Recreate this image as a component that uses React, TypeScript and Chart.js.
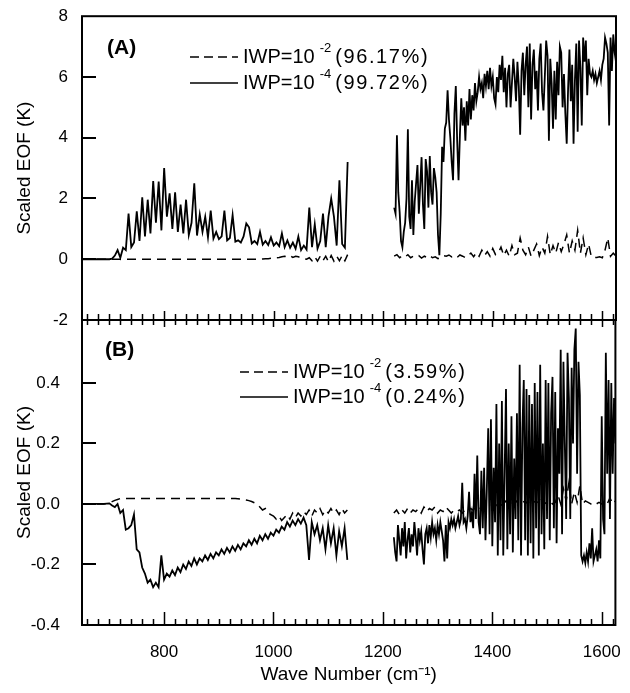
import React, { useEffect, useRef } from "react";
import { Chart, registerables } from "chart.js";
Chart.register(...registerables);

const FONT = "'Liberation Sans', Arial, Helvetica, sans-serif";
const W = 630;
const H = 693;

// ---------- data ----------
const wave1 = [
  650, 660, 670, 680, 690, 700, 705,
  710, 715, 720, 725, 730, 735, 740, 745, 750, 755,
  760, 765, 770, 775, 780, 785, 790, 795, 800, 805,
  810, 815, 820, 825, 830, 835, 840, 845, 850, 855,
  860, 865, 870, 875, 880, 885, 890, 895, 900, 905,
  910, 915, 920, 925, 930, 935, 940, 945, 950, 955,
  960, 965, 970, 975, 980, 985, 990, 995, 1000, 1005,
  1010, 1015, 1020, 1025, 1030, 1035, 1040, 1045, 1050, 1055,
  1060, 1065, 1070, 1075, 1080, 1085, 1090, 1095, 1100, 1105,
  1110, 1115, 1120, 1125, 1130, 1135,
];
const wave2 = [
  1220, 1225, 1230, 1235, 1240, 1245, 1250, 1255, 1260, 1265,
  1270, 1275, 1280, 1285, 1290, 1295, 1300, 1305, 1310, 1315,
  1320, 1325, 1330, 1335, 1340, 1345, 1350, 1355, 1360, 1365,
  1370, 1375, 1380, 1385, 1390, 1395, 1400, 1405, 1410, 1415,
  1420, 1425, 1430, 1435, 1440, 1445, 1450, 1455, 1460, 1465,
  1470, 1475, 1480, 1485, 1490, 1495, 1500, 1505, 1510, 1515,
  1520, 1525, 1530, 1535, 1540, 1545, 1550, 1555, 1560, 1565,
  1570, 1575, 1580, 1585, 1590, 1595, 1600, 1605, 1610, 1615,
  1620, 1625,
];
// finer grid used by the solid (IWP=1e-4) curves above 1200 cm-1
const wave2Fine = [
  1220, 1222.5, 1225, 1227.5, 1230, 1232.5, 1235, 1237.5, 1240, 1242.5,
  1245, 1247.5, 1250, 1252.5, 1255, 1257.5, 1260, 1262.5, 1265, 1267.5,
  1270, 1272.5, 1275, 1277.5, 1280, 1282.5, 1285, 1287.5, 1290, 1292.5,
  1295, 1297.5, 1300, 1302.5, 1305, 1307.5, 1310, 1312.5, 1315, 1317.5,
  1320, 1322.5, 1325, 1327.5, 1330, 1332.5, 1335, 1337.5, 1340, 1342.5,
  1345, 1347.5, 1350, 1352.5, 1355, 1357.5, 1360, 1362.5, 1365, 1367.5,
  1370, 1372.5, 1375, 1377.5, 1380, 1382.5, 1385, 1387.5, 1390, 1392.5,
  1395, 1397.5, 1400, 1402.5, 1405, 1407.5, 1410, 1412.5, 1415, 1417.5,
  1420, 1422.5, 1425, 1427.5, 1430, 1432.5, 1435, 1437.5, 1440, 1442.5,
  1445, 1447.5, 1450, 1452.5, 1455, 1457.5, 1460, 1462.5, 1465, 1467.5,
  1470, 1472.5, 1475, 1477.5, 1480, 1482.5, 1485, 1487.5, 1490, 1492.5,
  1495, 1497.5, 1500, 1502.5, 1505, 1507.5, 1510, 1512.5, 1515, 1517.5,
  1520, 1522.5, 1525, 1527.5, 1530, 1532.5, 1535, 1537.5, 1540, 1542.5,
  1545, 1547.5, 1550, 1552.5, 1555, 1557.5, 1560, 1562.5, 1565, 1567.5,
  1570, 1572.5, 1575, 1577.5, 1580, 1582.5, 1585, 1587.5, 1590, 1592.5,
  1595, 1597.5, 1600, 1602.5, 1605, 1607.5, 1610, 1612.5, 1615, 1617.5,
  1620, 1622.5, 1625,
];

// Panel A, IWP=1e-4 (solid)
const aSolid1 = [
  0, 0, 0, 0, 0, 0, 0.02,
  0.12, 0.3, 0.05, 0.38, 0.3, 1.5, 0.4, 0.55, 1.58, 0.6,
  2.04, 0.75, 1.96, 0.85, 2.57, 1.2, 2.56, 0.95, 3.0, 1.4,
  2.17, 1.0, 2.2, 0.9, 1.8, 0.85, 1.96, 0.8, 1.2, 2.5,
  0.78, 1.48, 0.9, 1.4, 0.72, 1.6, 0.68, 0.9, 0.66, 0.75,
  1.6, 0.62, 0.7, 1.45, 0.58, 0.62, 0.55, 0.75, 1.18, 1.05,
  0.52, 0.6, 0.5, 0.9, 0.48, 0.6, 0.47, 0.72, 0.45, 0.55,
  0.43, 0.85, 0.4, 0.62, 0.38, 0.55, 0.35, 0.75, 0.3, 0.45,
  0.32, 1.7, 0.4, 1.15, 0.35, 0.6, 1.5, 0.4, 1.4, 2.0,
  1.4, 0.45, 2.6, 0.5, 0.38, 3.2,
];
const aSolid2 = [
  1.7, 1.5, 4.08, 2.2, 1.55, 0.6, 0.4, 0.9, 1.2, 2.0,
  4.28, 1.4, 1.0, 2.6, 0.8, 1.9, 2.5, 3.1, 1.5, 2.4,
  3.36, 1.8, 1.0, 3.3, 2.9, 1.7, 3.4, 2.2, 1.8, 3.0,
  2.7, 2.2, 0.8, 0.13, 1.5, 3.7, 3.2, 4.3, 4.5, 5.56,
  4.6, 4.0, 3.2, 2.6, 4.8, 5.7, 3.9, 2.6, 4.1, 5.3,
  4.4, 5.0, 3.9, 5.2, 4.4, 5.6, 4.6, 5.4, 4.9, 5.8,
  5.2, 5.5, 6.0, 5.6, 5.8, 5.3, 6.1, 5.7, 6.2, 5.6,
  6.3, 5.7, 6.0, 5.3, 5.1, 6.0, 5.5, 6.4, 5.9, 6.7,
  5.5, 6.3, 5.0, 6.1, 6.4, 5.0, 5.8, 6.6, 6.0, 5.2,
  6.5, 5.7, 4.1, 6.2, 6.8, 5.4, 6.4, 7.0, 5.0, 7.1,
  4.6, 6.4, 6.9, 5.6, 6.2, 4.9, 6.6, 7.1, 5.5, 4.9,
  6.0, 7.2, 6.7, 3.9, 6.6, 5.8, 4.3, 6.2, 4.6, 6.5,
  5.4, 7.0, 6.8, 5.0, 6.1, 4.8, 3.8, 5.6, 6.9, 5.2,
  6.4, 3.8, 5.9, 7.1, 4.2, 7.2, 6.3, 4.4, 7.3, 6.5,
  7.2, 5.4, 6.6, 6.1, 6.0, 6.2, 5.9, 6.1, 5.8, 6.0,
  6.2, 5.9, 6.4, 6.6, 7.3, 7.1, 6.8, 4.4, 7.3, 6.2,
  7.4, 6.8, 6.5,
];
// Panel A, IWP=1e-2 (dashed)
const aDashed1 = [
  0, 0, 0, 0, 0, 0, 0,
  0, 0, 0, 0, 0, 0, 0, 0, 0, 0,
  0, 0, 0, 0, 0, 0, 0, 0, 0, 0,
  0, 0, 0, 0, 0, 0, 0, 0, 0, 0,
  0, 0, 0, 0, 0, 0, 0, 0, 0, 0,
  0, 0, 0, 0, 0, 0, 0, 0, 0, 0,
  0, 0, 0, 0, 0.01, 0.02, 0.02, 0.03, 0.03, 0.05,
  0.06, 0.08, 0.1, 0.08, 0.12, 0.06, 0.1, 0.08, 0.05, 0.02,
  0.0, 0.05, -0.05, 0.08, -0.06, 0.1, -0.05, 0.1, -0.08, 0.12,
  -0.06, 0.1, -0.05, 0.12, -0.05, 0.15,
];
const aDashed2 = [
  0.1, 0.15, 0.05, 0.12, 0.08, 0.15, 0.05, 0.1, 0.08, 0.12,
  0.04, 0.1, 0.06, 0.12, 0.05, 0.08, 0.02, 0.05, 0.12, 0.1,
  0.14, 0.08, 0.12, 0.06, 0.14, 0.1, 0.05, 0.12, 0.2, 0.08,
  0.22, 0.1, 0.3, 0.12, 0.25, 0.1, 0.35, 0.15, 0.2, 0.4,
  0.12, 0.3, 0.1, 0.45, 0.15, 0.2, 0.7, 0.3, 0.15, 0.4,
  0.1, 0.3, 0.5, 0.12, 0.4, 0.2, 0.75, 0.15, 0.45, 0.2,
  0.55, 0.25, 0.5, 0.8, 0.2, 0.6, 0.3, 0.95, 0.2, 0.7,
  0.15, 0.5, 0.08, 0.05, 0.06, 0.08, 0.05, 0.3, 0.7, 0.1,
  0.2, 0.1,
];

// Panel B, IWP=1e-4 (solid)
const bSolid1 = [
  0, 0, 0, 0, 0, 0.002, -0.005,
  -0.01, 0.0, -0.03, -0.02, -0.085, -0.08, -0.07, -0.035, -0.15, -0.16,
  -0.21, -0.23, -0.26, -0.25, -0.275, -0.26, -0.275, -0.17, -0.25, -0.23,
  -0.24, -0.22, -0.235, -0.21, -0.225, -0.2, -0.215, -0.19, -0.205, -0.18,
  -0.2, -0.18, -0.19, -0.17, -0.185, -0.165, -0.18, -0.16, -0.17, -0.15,
  -0.165, -0.145, -0.16, -0.14, -0.155, -0.135, -0.15, -0.13, -0.14, -0.12,
  -0.135, -0.115, -0.13, -0.105, -0.12, -0.1, -0.115, -0.095, -0.105, -0.085,
  -0.095, -0.075, -0.085, -0.06, -0.075, -0.055, -0.07, -0.05, -0.065, -0.045,
  -0.07, -0.185, -0.06, -0.1, -0.07, -0.12, -0.08, -0.15, -0.07, -0.13,
  -0.08, -0.17, -0.09, -0.14, -0.08, -0.185,
];
const bSolid2 = [
  -0.11, -0.16, -0.19, -0.07, -0.12, -0.17, -0.08, -0.14, -0.06, -0.18,
  -0.12, -0.08, -0.16, -0.1, -0.14, -0.06, -0.11, -0.17, -0.08, -0.12,
  -0.09, -0.15, -0.2, -0.1, -0.08, -0.13, -0.07, -0.11, -0.06, -0.1,
  -0.08, -0.12, -0.07, -0.1, -0.06, -0.09, -0.12, -0.19, -0.07, -0.18,
  -0.06, -0.08, -0.05, -0.07, -0.05, -0.08, -0.06, -0.04, -0.07, -0.05,
  0.07, -0.06, -0.05, -0.08, -0.04, 0.04, -0.06, -0.03, -0.08, 0.1,
  -0.05, 0.16, -0.06, -0.1, 0.11, -0.08, 0.12, -0.12, 0.05, 0.25,
  -0.1, 0.28, -0.14, 0.12, -0.06, 0.33, -0.17, 0.2, -0.12, 0.34,
  -0.17, 0.1, 0.38, -0.15, 0.2, -0.1, 0.29, -0.16, 0.15, -0.05,
  0.3, -0.12, 0.46, -0.17, 0.25, 0.41, -0.12, 0.38, -0.17, 0.36,
  -0.13, 0.33, -0.18, 0.4, -0.08, 0.37, -0.17, 0.46, -0.1, 0.2,
  -0.15, 0.41, -0.05, 0.4, -0.12, 0.3, 0.42, -0.08, 0.37, -0.13,
  0.25, 0.1, 0.51, -0.1, 0.47, 0.2, -0.05, 0.5, 0.35, -0.05,
  0.45, 0.2, 0.51, 0.58, 0.1, 0.47, 0.36, -0.17, -0.19, -0.17,
  -0.195, -0.16, -0.19, -0.13, -0.18, -0.08, -0.19, -0.17, -0.15, -0.19,
  -0.12, -0.18, 0.29, -0.05, -0.1, 0.5, 0.1, 0.41, -0.05, 0.4,
  0.1, 0.35, 0.2,
];
// Panel B, IWP=1e-2 (dashed)
const bDashed1 = [
  0, 0, 0, 0, 0, 0.003, 0.008,
  0.012, 0.015, 0.018, 0.018, 0.018, 0.018, 0.018, 0.018, 0.018, 0.018,
  0.018, 0.018, 0.018, 0.018, 0.018, 0.018, 0.018, 0.018, 0.018, 0.018,
  0.018, 0.018, 0.018, 0.018, 0.018, 0.018, 0.018, 0.018, 0.018, 0.018,
  0.018, 0.018, 0.018, 0.018, 0.018, 0.018, 0.018, 0.018, 0.018, 0.018,
  0.018, 0.018, 0.018, 0.018, 0.018, 0.017, 0.016, 0.015, 0.013, 0.011,
  0.008, 0.004, 0.0, -0.01, -0.02, -0.015, -0.03, -0.035, -0.04, -0.05,
  -0.04, -0.055, -0.045, -0.035, -0.05, -0.03, -0.045, -0.03, -0.04, -0.025,
  -0.035, -0.02, -0.04, -0.02, -0.03, -0.015, -0.035, -0.02, -0.03, -0.015,
  -0.03, -0.02, -0.035, -0.015, -0.03, -0.02,
];
const bDashed2 = [
  -0.03, -0.02, -0.035, -0.02, -0.03, -0.015, -0.03, -0.02, -0.025, -0.015,
  -0.03, -0.01, -0.025, -0.015, -0.02, -0.01, -0.03, -0.02, -0.025, -0.01,
  -0.02, -0.03, -0.02, -0.025, -0.02, -0.03, -0.02, -0.025, -0.015, -0.02,
  -0.01, -0.02, -0.01, -0.015, -0.005, -0.01, 0.0, -0.01, 0.005, -0.005,
  0.0, 0.01, 0.0, 0.005, 0.0, 0.01, 0.0, 0.005, 0.01, 0.0,
  0.02, 0.005, 0.01, 0.0, 0.015, 0.005, 0.0, 0.01, 0.0, 0.005,
  0.03, 0.0, 0.05, 0.01, 0.07, 0.0, 0.04, 0.005, 0.06, 0.0,
  0.01, 0.005, 0.0, -0.005, 0.0, 0.005, 0.0, 0.01, 0.0, 0.02,
  0.0, 0.01,
];

const xTickValues = [800, 1000, 1200, 1400, 1600];
const xTickLabels = ["800", "1000", "1200", "1400", "1600"];
const aTickValues = [-2, 0, 2, 4, 6, 8];
const aTickLabels = ["-2", "0", "2", "4", "6", "8"];
const bTickValues = [-0.4, -0.2, 0, 0.2, 0.4];
const bTickLabels = ["-0.4", "-0.2", "0.0", "0.2", "0.4"];

const seriesNames = ["IWP=10", "IWP=10"];
const seriesExps = ["-2", "-4"];
const aPercents = ["(96.17%)", "(99.72%)"];
const bPercents = ["(3.59%)", "(0.24%)"];

const GAP_X = 1180;

function toPoints(s1: number[], x2: number[], s2: number[]) {
  return [
    ...wave1.map((x, i) => ({ x, y: s1[i] })),
    { x: GAP_X, y: null as any },
    ...x2.map((x, i) => ({ x, y: s2[i] })),
  ];
}

const X_MIN = 650;
const X_MAX = 1625;

function framePlugin(opts: { topTicks: boolean; bottomMajor: number; bottomMinor: number; topMajor: number; topMinor: number }) {
  return {
    id: "frame",
    afterDatasetsDraw(chart: any) {
      const { ctx, chartArea } = chart;
      const { left, right, top, bottom } = chartArea;
      const xs = chart.scales.x;
      const ys = chart.scales.y;
      ctx.save();
      ctx.strokeStyle = "#000";
      ctx.lineWidth = 2;
      ctx.setLineDash([]);
      ctx.strokeRect(left, top, right - left, bottom - top);
      ctx.beginPath();
      ys.ticks.forEach((t: any) => {
        if (t.value > ys.min + 1e-9 && t.value < ys.max - 1e-9) {
          const py = Math.round(ys.getPixelForValue(t.value));
          ctx.moveTo(left, py);
          ctx.lineTo(left + 14, py);
        }
      });
      ctx.stroke();
      ctx.lineWidth = 1.5;
      ctx.beginPath();
      for (let v = 660; v <= 1620; v += 20) {
        const px = Math.round(xs.getPixelForValue(v)) + 0.5;
        const major = v % 200 === 0;
        const lb = major ? opts.bottomMajor : opts.bottomMinor;
        ctx.moveTo(px, bottom);
        ctx.lineTo(px, bottom - lb);
        if (opts.topTicks) {
          const lt = major ? opts.topMajor : opts.topMinor;
          ctx.moveTo(px, top);
          ctx.lineTo(px, top + lt);
        }
      }
      ctx.stroke();
      ctx.restore();
    },
  };
}

function legendPlugin(panel: string, label: [number, number], x0: number, x1: number, xt: number, rows: number[], pcts: string[]) {
  return {
    id: "customLegend",
    afterDraw(chart: any) {
      const ctx = chart.ctx;
      ctx.save();
      ctx.fillStyle = "#000";
      ctx.strokeStyle = "#000";
      ctx.textAlign = "left";
      ctx.textBaseline = "middle";
      ctx.font = `bold 21px ${FONT}`;
      ctx.fillText(panel, label[0], label[1]);
      rows.forEach((yRow, i) => {
        ctx.lineWidth = 1.5;
        ctx.setLineDash(i === 0 ? [9, 5] : []);
        ctx.beginPath();
        ctx.moveTo(x0, yRow);
        ctx.lineTo(x1, yRow);
        ctx.stroke();
        ctx.setLineDash([]);
        ctx.font = `20px ${FONT}`;
        ctx.fillText(seriesNames[i], xt, yRow);
        const w1 = ctx.measureText(seriesNames[i]).width;
        ctx.font = `13px ${FONT}`;
        ctx.fillText(seriesExps[i], xt + w1 + 5, yRow - 9);
        const w2 = ctx.measureText(seriesExps[i]).width;
        ctx.font = `20px ${FONT}`;
        try {
          (ctx as any).letterSpacing = "1.6px";
        } catch (e) {}
        ctx.fillText(pcts[i], xt + w1 + 5 + w2 + 4, yRow);
        try {
          (ctx as any).letterSpacing = "0px";
        } catch (e) {}
      });
      ctx.restore();
    },
  };
}

function makeDatasets(dashed: any[], solid: any[]) {
  return [
    {
      label: "IWP=10^-2",
      data: dashed,
      borderColor: "#000",
      borderWidth: 1.5,
      borderDash: [9, 6],
      pointRadius: 0,
      fill: false,
      spanGaps: false,
      tension: 0,
    },
    {
      label: "IWP=10^-4",
      data: solid,
      borderColor: "#000",
      borderWidth: 1.8,
      pointRadius: 0,
      fill: false,
      spanGaps: false,
      tension: 0,
    },
  ];
}

export default function App() {
  const refA = useRef<HTMLCanvasElement>(null);
  const refB = useRef<HTMLCanvasElement>(null);

  useEffect(() => {
    const tickFont = { family: FONT, size: 17 };
    const titleFont = { family: FONT, size: 19 };
    const chartA = new Chart(refA.current as HTMLCanvasElement, {
      type: "line",
      data: {
        datasets: makeDatasets(toPoints(aDashed1, wave2, aDashed2), toPoints(aSolid1, wave2Fine, aSolid2)) as any,
      },
      options: {
        animation: false,
        responsive: false,
        events: [],
        layout: { padding: { left: 0, top: 16, right: W - 616, bottom: H - 320 } },
        plugins: { legend: { display: false }, tooltip: { enabled: false } },
        scales: {
          x: { type: "linear", min: X_MIN, max: X_MAX, display: false },
          y: {
            type: "linear",
            min: -2,
            max: 8,
            grid: { display: false },
            border: { display: false },
            afterBuildTicks: (s: any) => {
              s.ticks = aTickValues.map((v) => ({ value: v }));
            },
            afterFit: (s: any) => {
              s.width = 82;
            },
            ticks: {
              color: "#000",
              font: tickFont,
              padding: 6,
              callback: (v: any) => aTickLabels[aTickValues.indexOf(Number(v))] ?? "",
            },
            title: {
              display: true,
              text: "Scaled EOF (K)",
              color: "#000",
              font: titleFont,
              padding: { top: 13, bottom: 0 },
            },
          },
        },
      },
      plugins: [
        framePlugin({ topTicks: false, bottomMajor: 9, bottomMinor: 6, topMajor: 0, topMinor: 0 }),
        legendPlugin("(A)", [107, 48], 190, 238, 243, [57, 83], aPercents),
      ],
    } as any);

    const chartB = new Chart(refB.current as HTMLCanvasElement, {
      type: "line",
      data: {
        datasets: makeDatasets(toPoints(bDashed1, wave2, bDashed2), toPoints(bSolid1, wave2Fine, bSolid2)) as any,
      },
      options: {
        animation: false,
        responsive: false,
        events: [],
        layout: { padding: { left: 0, top: 320, right: W - 616, bottom: 0 } },
        plugins: { legend: { display: false }, tooltip: { enabled: false } },
        scales: {
          x: {
            type: "linear",
            min: X_MIN,
            max: X_MAX,
            grid: { display: false },
            border: { display: false },
            afterBuildTicks: (s: any) => {
              s.ticks = xTickValues.map((v) => ({ value: v }));
            },
            afterFit: (s: any) => {
              s.height = H - 625;
            },
            ticks: {
              color: "#000",
              font: tickFont,
              padding: 9,
              maxRotation: 0,
              autoSkip: false,
              callback: (v: any) => xTickLabels[xTickValues.indexOf(Number(v))] ?? "",
            },
            title: {
              display: true,
              text: "Wave Number (cm⁻¹)",
              color: "#000",
              font: titleFont,
              padding: { top: 0, bottom: 7 },
            },
          },
          y: {
            type: "linear",
            min: -0.4,
            max: 0.608,
            grid: { display: false },
            border: { display: false },
            afterBuildTicks: (s: any) => {
              s.ticks = bTickValues.map((v) => ({ value: v }));
            },
            afterFit: (s: any) => {
              s.width = 82;
            },
            ticks: {
              color: "#000",
              font: tickFont,
              padding: 14,
              callback: (v: any) => {
                const idx = bTickValues.findIndex((t) => Math.abs(t - Number(v)) < 1e-9);
                return idx >= 0 ? bTickLabels[idx] : "";
              },
            },
            title: {
              display: true,
              text: "Scaled EOF (K)",
              color: "#000",
              font: titleFont,
              padding: { top: 13, bottom: 0 },
            },
          },
        },
      },
      plugins: [
        framePlugin({ topTicks: true, bottomMajor: 13, bottomMinor: 6, topMajor: 7, topMinor: 5 }),
        legendPlugin("(B)", [105, 350], 240, 288, 293, [372, 397], bPercents),
      ],
    } as any);

    return () => {
      chartA.destroy();
      chartB.destroy();
    };
  }, []);

  const canvasStyle: React.CSSProperties = { position: "absolute", left: 0, top: 0, width: W, height: H };
  return (
    <div style={{ position: "fixed", left: 0, top: 0, width: W, height: H, background: "#fff" }}>
      <canvas ref={refA} width={W} height={H} style={canvasStyle} />
      <canvas ref={refB} width={W} height={H} style={canvasStyle} />
    </div>
  );
}
